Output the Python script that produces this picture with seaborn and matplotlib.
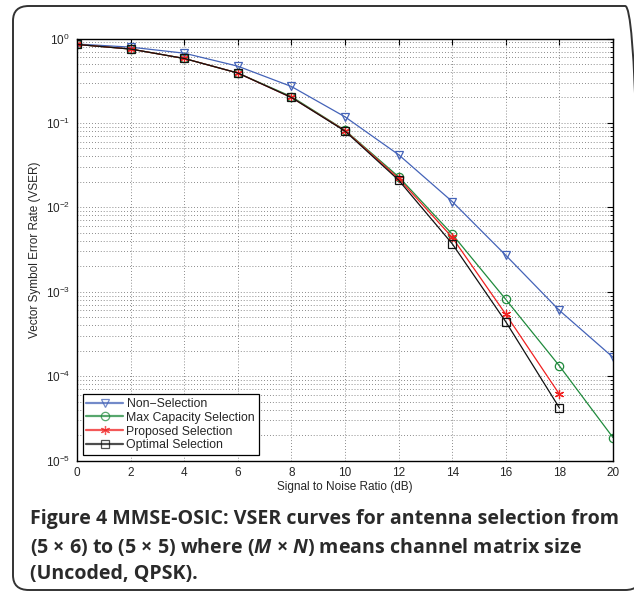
import matplotlib
matplotlib.use("Agg")
import matplotlib.pyplot as plt
import seaborn as sns
import numpy as np
from matplotlib.patches import FancyBboxPatch
from matplotlib.ticker import LogLocator, NullFormatter, FixedLocator

sns.set_style("white")
plt.rcParams['font.family'] = ['Liberation Sans', 'DejaVu Sans']
plt.rcParams['mathtext.fontset'] = 'custom'
plt.rcParams['mathtext.rm'] = 'Liberation Sans'
plt.rcParams['mathtext.it'] = 'Open Sans:italic:bold'

snr = [0, 2, 4, 6, 8, 10, 12, 14, 16, 18, 20]
non_selection = [0.86, 0.79, 0.67, 0.47, 0.27, 0.118, 0.042, 0.0117, 0.0027, 6.0e-4, 1.67e-4]
max_capacity = [0.85, 0.75, 0.58, 0.39, 0.205, 0.082, 0.023, 0.0048, 8.1e-4, 1.32e-4, 1.87e-5]
snr_short = [0, 2, 4, 6, 8, 10, 12, 14, 16, 18]
proposed = [0.85, 0.75, 0.58, 0.39, 0.20, 0.081, 0.022, 0.0044, 5.4e-4, 6.1e-5]
optimal = [0.85, 0.75, 0.58, 0.39, 0.20, 0.080, 0.021, 0.0037, 4.4e-4, 4.2e-5]

labels = ["Non\u2212Selection", "Max Capacity Selection", "Proposed Selection", "Optimal Selection"]
xticks = [0, 2, 4, 6, 8, 10, 12, 14, 16, 18, 20]

fig = plt.figure(figsize=(6.34, 5.93), dpi=100)

# outer rounded frame
frame = FancyBboxPatch((13 / 634, 3 / 593), 628 / 634, 584 / 593,
                       boxstyle="round,pad=0,rounding_size=0.025",
                       transform=fig.transFigure, fill=False,
                       edgecolor="#333333", linewidth=1.4)
fig.patches.append(frame)

ax = fig.add_axes([77 / 634, 1 - 460.5 / 593, 536 / 634, 422 / 593])

series = [
    (snr, non_selection, "#4463b8", "v", 6),
    (snr, max_capacity, "#1f8a3c", "o", 6),
    (snr_short, proposed, "#f02020", (6, 2, 0), 6.5),
    (snr_short, optimal, "#111111", "s", 5.5),
]
for (xs, ys, col, mk, ms), lab in zip(series, labels):
    sns.lineplot(x=xs, y=ys, ax=ax, color=col, marker=mk, markersize=ms,
                 markerfacecolor="none", markeredgecolor=col, markeredgewidth=0.9,
                 linewidth=0.9, label=lab)

ax.set_yscale("log")
ax.set_xlim(0, 20)
ax.set_ylim(1e-5, 1)
ax.xaxis.set_major_locator(FixedLocator(xticks))
ax.set_xticklabels([str(t) for t in xticks])
ax.yaxis.set_major_locator(LogLocator(base=10, numticks=10))
ax.yaxis.set_minor_locator(LogLocator(base=10, subs=np.arange(2, 10), numticks=100))
ax.yaxis.set_minor_formatter(NullFormatter())

ax.grid(True, which="major", axis="both", linestyle=(0, (1, 2.5)), color="#666666", linewidth=0.6)
ax.grid(True, which="minor", axis="y", linestyle=(0, (1, 2.5)), color="#666666", linewidth=0.6)

ax.tick_params(axis="both", which="both", direction="in", top=True, right=True,
               labelsize=8.5, color="black", pad=5)
ax.tick_params(which="major", length=4)
ax.tick_params(which="minor", length=2)
for sp in ax.spines.values():
    sp.set_color("black")
    sp.set_linewidth(1.0)

ax.set_xlabel("Signal to Noise Ratio (dB)", fontsize=8.5, labelpad=1)
ax.set_ylabel("Vector Symbol Error Rate (VSER)", fontsize=8.5, labelpad=3)

leg = ax.legend(loc="lower left", fontsize=8.8, frameon=True, fancybox=False,
                edgecolor="black", framealpha=1, borderpad=0.3, labelspacing=0.15,
                handlelength=3.0, handletextpad=0.3, borderaxespad=0.45)
leg.get_frame().set_linewidth(0.9)
for h in leg.get_lines():
    h.set_linewidth(1.6)
    h.set_alpha(0.75)

cap_kw = dict(fontsize=14.15, fontweight="bold", color="#2a2a2a",
              family=["Open Sans", "DejaVu Sans"], transform=fig.transFigure)
fig.text(30 / 634, 1 - 519 / 593, "Figure 4 MMSE-OSIC: VSER curves for antenna selection from",
         va="center", ha="left", **cap_kw)
fig.text(30 / 634, 1 - 547 / 593, "(5 \u00d7 6) to (5 \u00d7 5) where ($M$ \u00d7 $N$) means channel matrix size",
         va="center", ha="left", **cap_kw)
fig.text(30 / 634, 1 - 574 / 593, "(Uncoded, QPSK).",
         va="center", ha="left", **cap_kw)

fig.savefig("out.png", dpi=100)
